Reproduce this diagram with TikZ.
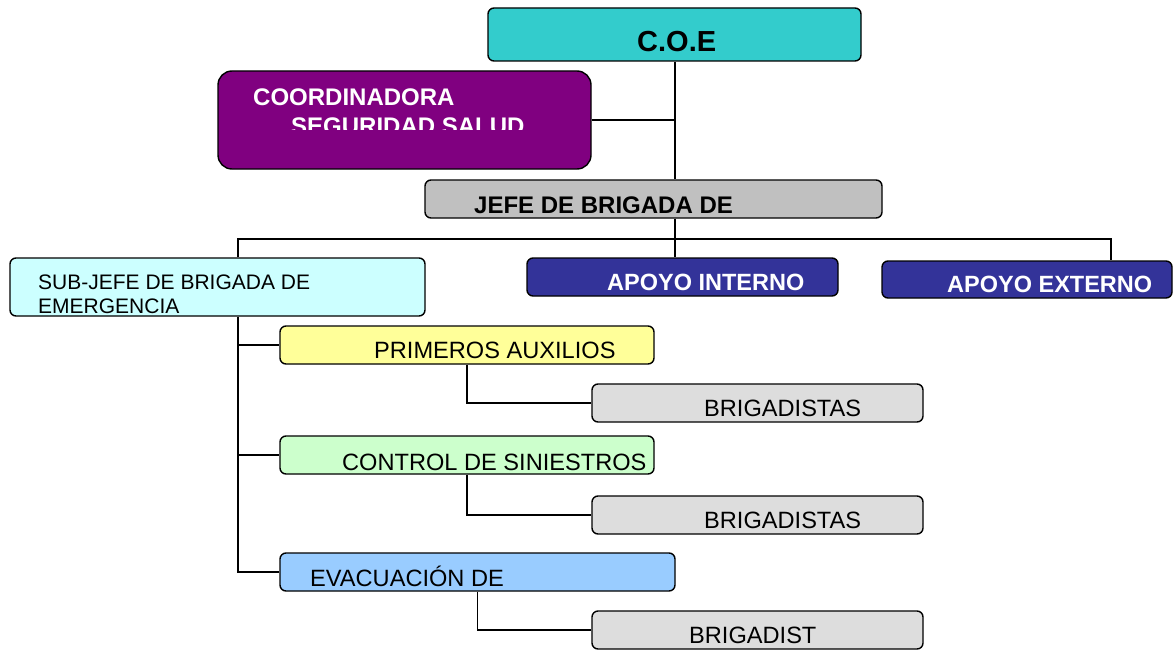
\documentclass[tikz,border=0pt]{standalone}
\usepackage{fontspec}
\setmainfont{Liberation Sans}
\newcommand\myfs[1]{\fontsize{#1}{#1}\selectfont}
\definecolor{coecol}{HTML}{33CCCC}
\definecolor{coordcol}{HTML}{800080}
\definecolor{jefecol}{HTML}{C0C0C0}
\definecolor{subcol}{HTML}{CCFFFF}
\definecolor{apoyocol}{HTML}{333399}
\definecolor{pacol}{HTML}{FFFF99}
\definecolor{brigcol}{HTML}{DDDDDD}
\definecolor{cscol}{HTML}{CCFFCC}
\definecolor{evcol}{HTML}{99CCFF}
\begin{document}
\begin{tikzpicture}[x=1pt,y=-1pt,
  box/.style={draw=black, line width=1.4pt, rounded corners=6pt, inner sep=0pt},
  conn/.style={draw=black, line width=1.3pt},
  txt/.style={inner sep=0pt, anchor=base west},
  btxt/.style={txt, font=\bfseries\myfs{24}},
  rtxt/.style={txt, font=\myfs{23.6}}]
\useasboundingbox (0,0) rectangle (1174,650);

% boxes
\node[box, fill=coecol, minimum width=373pt, minimum height=53pt] (coe) at (674.5,34.5) {};
\node[box, fill=coordcol, rounded corners=14pt, minimum width=373pt, minimum height=98pt] (coord) at (404.5,120) {};
\node[box, fill=jefecol, minimum width=457pt, minimum height=38pt] (jefe) at (653.5,199) {};
\node[box, fill=subcol, minimum width=415pt, minimum height=58pt] (sub) at (217.5,287) {};
\node[box, fill=apoyocol, minimum width=311pt, minimum height=38pt] (ai) at (682.5,277) {};
\node[box, fill=apoyocol, minimum width=290pt, minimum height=37pt] (ae) at (1027,279.5) {};
\node[box, fill=pacol, minimum width=374pt, minimum height=38pt] (pa) at (467,345) {};
\node[box, fill=brigcol, minimum width=331pt, minimum height=38pt] (b1) at (757.5,403) {};
\node[box, fill=cscol, minimum width=374pt, minimum height=38pt] (cs) at (467,455) {};
\node[box, fill=brigcol, minimum width=331pt, minimum height=38pt] (b2) at (757.5,515) {};
\node[box, fill=evcol, minimum width=395pt, minimum height=38pt] (ev) at (477.5,572) {};
\node[box, fill=brigcol, minimum width=331pt, minimum height=38pt] (b3) at (757.5,630) {};

% texts
\node[txt, font=\bfseries\myfs{29}] (tcoe) at (637,52) {C.O.E};
\node[btxt, text=white] (tcoord1) at (253,106) {COORDINADORA};
\begin{scope}
  \clip (218,60) rectangle (591,129);
  \node[btxt, text=white] (tcoord2) at (291,135) {SEGURIDAD SALUD};
\end{scope}
\node[btxt] (tjefe) at (474,213) {JEFE DE BRIGADA DE};
\node[txt, font=\myfs{21}] (tsub1) at (38,289) {SUB-JEFE DE BRIGADA DE};
\node[txt, font=\myfs{21}] (tsub2) at (38,313) {EMERGENCIA};
\node[btxt, text=white, font=\bfseries\myfs{23.5}] (tai) at (607,290) {APOYO INTERNO};
\node[btxt, text=white, font=\bfseries\myfs{23.5}] (tae) at (947,292) {APOYO EXTERNO};
\node[rtxt] (tpa) at (374,358) {PRIMEROS AUXILIOS};
\node[rtxt] (tb1) at (704,416) {BRIGADISTAS};
\node[rtxt] (tcs) at (342,470) {CONTROL DE SINIESTROS};
\node[rtxt] (tb2) at (704,528) {BRIGADISTAS};
\node[rtxt] (tev) at (310,586) {EVACUACIÓN DE};
\node[rtxt] (tb3) at (689,643) {BRIGADIST};

% connectors
\coordinate (hl) at (238,239);
\coordinate (hr) at (1111,239);
\coordinate (vx) at (675,0);
\draw[conn] (coe.south -| vx) -- (jefe.north -| vx);
\draw[conn] (coord.east) -- (coord.east -| vx);
\draw[conn] (jefe.south -| vx) -- (ai.north -| vx);
\draw[conn] (sub.north -| hl) -- (hl) -- (hr) -- (ae.north -| hr);
\draw[conn] (sub.south -| hl) -- (ev.west -| hl) -- (ev.west);
\draw[conn] (pa.west -| hl) -- (pa.west);
\draw[conn] (cs.west -| hl) -- (cs.west);
\draw[conn] (pa.south) -- (pa.south |- b1.west) -- (b1.west);
\draw[conn] (cs.south) -- (cs.south |- b2.west) -- (b2.west);
\draw[conn] (ev.south) -- (ev.south |- b3.west) -- (b3.west);
\end{tikzpicture}
\end{document}
